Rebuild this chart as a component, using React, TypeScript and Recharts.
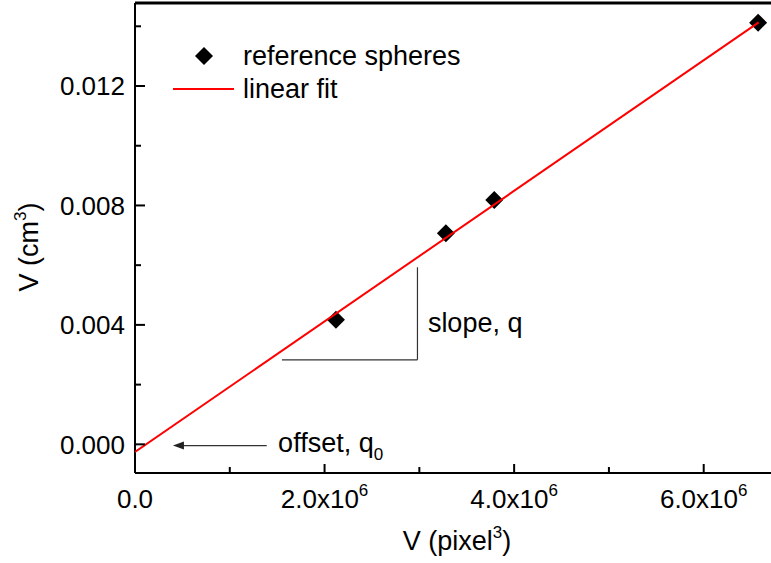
import React from 'react';
import { ScatterChart, Scatter, XAxis, YAxis, ReferenceLine, ReferenceDot, Customized } from 'recharts';

const sphereVolPx = [2.12e6, 3.28e6, 3.79e6, 6.574e6];
const sphereVolCm = [0.00417, 0.00707, 0.00818, 0.01412];
const fitX = [0, 6.58e6];
const fitY = [-0.000254, 0.01413];
const xTicks = [0, 1e6, 2e6, 3e6, 4e6, 5e6, 6e6];
const xTickLabels = ['0.0', '', '2.0', '', '4.0', '', '6.0'];
const yTicks = [0, 0.002, 0.004, 0.006, 0.008, 0.01, 0.012, 0.014];
const yTickLabels = ['0.000', '', '0.004', '', '0.008', '', '0.012', ''];
const X_DOMAIN = [0, 6.71e6];
const Y_DOMAIN = [-0.00096, 0.01478];
const slopeH = [1.55e6, 2.98e6];
const slopeV = [0.00283, 0.00593];
const arrowX = [0.4e6, 1.39e6];
const arrowY = -0.00004;
const slopeText = { x: 3.09e6, y: 0.00376 };
const offsetText = { x: 1.51e6, y: -0.00024 };

const FONT = '"Liberation Sans", Arial, sans-serif';
const TICK_FS = 26;
const TEXT_FS = 27;

const points = sphereVolPx.map((x, i) => ({ x, y: sphereVolCm[i] }));
const fit = fitX.map((x, i) => ({ x, y: fitY[i] }));

const idxOf = (arr: number[], v: number) => arr.findIndex((t) => Math.abs(t - v) < 1e-9 * Math.max(1, Math.abs(t)) + 1e-12);

const YTick = (props: any) => {
  const { x, y, payload } = props;
  const i = idxOf(yTicks, payload.value);
  const major = yTickLabels[i] !== '';
  return (
    <g>
      <line x1={x} x2={x + (major ? 10 : 6)} y1={y} y2={y} stroke="#000" strokeWidth={2} />
      {major && (
        <text x={x - 10} y={y} dy="0.36em" textAnchor="end" fontSize={TICK_FS} fontFamily={FONT} fill="#000">
          {yTickLabels[i]}
        </text>
      )}
    </g>
  );
};

const XTick = (props: any) => {
  const { x, y, payload } = props;
  const i = idxOf(xTicks, payload.value);
  const major = xTickLabels[i] !== '';
  const lab = xTickLabels[i];
  return (
    <g>
      <line x1={x} x2={x} y1={y} y2={y - (major ? 9 : 6)} stroke="#000" strokeWidth={2} />
      {major && (
        <text x={x} y={y + 35} textAnchor="middle" fontSize={TICK_FS} fontFamily={FONT} fill="#000">
          {lab === '0.0' ? (
            lab
          ) : (
            <>
              {lab + 'x10'}
              <tspan dy={-12} fontSize={17}>6</tspan>
            </>
          )}
        </text>
      )}
    </g>
  );
};

const Diamond = (props: any) => {
  const { cx, cy } = props;
  const r = 9;
  return <path d={`M${cx},${cy - r}L${cx + r},${cy}L${cx},${cy + r}L${cx - r},${cy}Z`} fill="#000" />;
};

const Overlay = () => (
  <g fontFamily={FONT} fill="#000">
    <path d="M204,47L213,56L204,65L195,56Z" fill="#000" />
    <text x={243} y={65} fontSize={TEXT_FS}>reference spheres</text>
    <line x1={173} x2={234} y1={89} y2={89} stroke="#ff0000" strokeWidth={2} />
    <text x={243} y={98} fontSize={TEXT_FS}>linear fit</text>
    <text x={457} y={550} textAnchor="middle" fontSize={TEXT_FS}>
      V (pixel<tspan dy={-12} fontSize={17}>3</tspan><tspan dy={12}>)</tspan>
    </text>
    <text x={38} y={247} textAnchor="middle" fontSize={TEXT_FS} transform="rotate(-90 38 247)">
      V (cm<tspan dy={-12} fontSize={17}>3</tspan><tspan dy={12}>)</tspan>
    </text>
  </g>
);

const TextShape = (text: string, sub?: string) => (props: any) => (
  <text x={props.cx} y={props.cy} fontSize={TEXT_FS} fontFamily={FONT} fill="#000">
    {text}
    {sub && <tspan dy={8} fontSize={17}>{sub}</tspan>}
  </text>
);

const ArrowHead = (props: any) => {
  const { cx, cy } = props;
  return <path d={`M${cx},${cy}L${cx + 11},${cy - 4}L${cx + 11},${cy + 4}Z`} fill="#222" />;
};

export default function App() {
  return (
    <div style={{ position: 'absolute', left: 0, top: 0, background: '#fff' }}>
      <ScatterChart width={771} height={563} margin={{ top: 3, right: 0, left: 0, bottom: 0 }}>
        <XAxis
          type="number"
          dataKey="x"
          domain={X_DOMAIN}
          ticks={xTicks}
          allowDataOverflow
          height={90}
          tickSize={0}
          tickMargin={0}
          tickLine={false}
          axisLine={{ stroke: '#000', strokeWidth: 2 }}
          tick={<XTick />}
          interval={0}
        />
        <YAxis
          type="number"
          dataKey="y"
          domain={Y_DOMAIN}
          ticks={yTicks}
          allowDataOverflow
          width={135}
          tickSize={0}
          tickMargin={0}
          tickLine={false}
          axisLine={{ stroke: '#000', strokeWidth: 2 }}
          tick={<YTick />}
          interval={0}
        />
        <ReferenceLine y={Y_DOMAIN[1]} stroke="#000" strokeWidth={3} ifOverflow="visible" />
        <ReferenceLine
          segment={[{ x: slopeH[0], y: slopeV[0] }, { x: slopeH[1], y: slopeV[0] }]}
          stroke="#333"
          strokeWidth={1.2}
        />
        <ReferenceLine
          segment={[{ x: slopeH[1], y: slopeV[0] }, { x: slopeH[1], y: slopeV[1] }]}
          stroke="#333"
          strokeWidth={1.2}
        />
        <ReferenceLine
          segment={[{ x: arrowX[0] + 0.05e6, y: arrowY }, { x: arrowX[1], y: arrowY }]}
          stroke="#333"
          strokeWidth={1.2}
        />
        <ReferenceDot x={arrowX[0]} y={arrowY} shape={ArrowHead} />
        <ReferenceDot x={slopeText.x} y={slopeText.y} shape={TextShape('slope, q')} />
        <ReferenceDot x={offsetText.x} y={offsetText.y} shape={TextShape('offset, q', '0')} />
        <Scatter data={points} shape={<Diamond />} isAnimationActive={false} />
        <Scatter
          data={fit}
          line={{ stroke: '#ff0000', strokeWidth: 2 }}
          shape={() => <g />}
          isAnimationActive={false}
        />
        <Customized component={Overlay} />
      </ScatterChart>
    </div>
  );
}
